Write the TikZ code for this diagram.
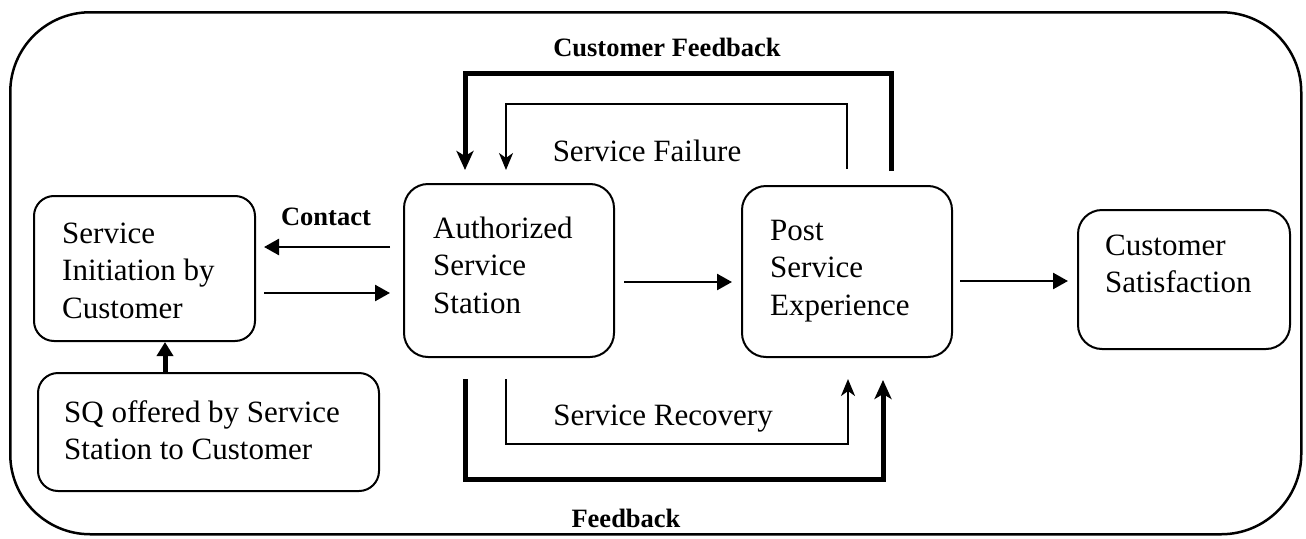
\documentclass[tikz,border=0pt]{standalone}
\usepackage{fontspec}
\setmainfont{Liberation Serif}
\usetikzlibrary{arrows.meta,calc}
\newcommand{\boxlines}[1]{\begin{tabular}[t]{@{}l@{}}#1\end{tabular}}

\begin{document}
\begin{tikzpicture}[x=1pt,y=-1pt,
  frame/.style={draw, line width=2.5pt, rounded corners=80pt, anchor=north west, inner sep=0pt},
  stagebox/.style={draw, line width=2pt, rounded corners=#1, anchor=north west, inner sep=0pt},
  stagebox/.default=24pt,
  txt/.style={anchor=base west, inner sep=0pt, font=\fontsize{31}{37.5}\selectfont},
  lbl/.style={anchor=base, inner sep=0pt, font=\fontsize{31}{37.5}\selectfont},
  boldlbl/.style={anchor=base, inner sep=0pt, font=\bfseries\fontsize{26.5}{30}\selectfont},
  flow/.style={-{Triangle[length=15pt,width=16pt]}, line width=2.5pt},
  upflow/.style={-{Triangle[length=14pt,width=16pt]}, line width=5pt},
  loopthin/.style={-{Stealth[length=17pt,width=14pt,inset=5pt]}, line width=2pt},
  loopthick/.style={-{Stealth[length=19pt,width=17pt,inset=5pt]}, line width=5pt},
]
\useasboundingbox (0,0) rectangle (1306,538);

% outer frame
\node[frame, minimum width=1291pt, minimum height=522pt] (frame) at (9,11) {};

% stages
\node[stagebox=20pt, minimum width=221pt, minimum height=145pt] (init) at (33,195) {};
\node[stagebox=20pt, minimum width=341pt, minimum height=118pt] (sq) at (37,372) {};
\node[stagebox, minimum width=210pt, minimum height=173pt] (auth) at (403,183) {};
\node[stagebox, minimum width=210pt, minimum height=171pt] (post) at (741,185) {};
\node[stagebox, minimum width=212pt, minimum height=139pt] (cs) at (1077,209) {};

% stage texts
\node[txt] (initT) at (62,243) {\boxlines{Service\\Initiation by\\Customer}};
\node[txt] (sqT) at (64,422) {\boxlines{SQ offered by Service\\Station to Customer}};
\node[txt] (authT) at (433,238) {\boxlines{Authorized\\Service\\Station}};
\node[txt] (postT) at (770,240) {\boxlines{Post\\Service\\Experience}};
\node[txt] (csT) at (1105,255) {\boxlines{Customer\\Satisfaction}};

% straight connectors
\draw[flow] ($(auth.north west)+(-13,64)$) -- ($(init.north east)+(8,52)$);
\draw[flow] ($(init.north east)+(8,98)$) -- ($(auth.north west)+(-13,110)$);
\draw[upflow] ($(sq.north west)+(128,0)$) -- ($(init.south west)+(132,0)$);
\draw[flow] ($(auth.north east)+(9,99)$) -- ($(post.north west)+(-9,97)$);
\draw[flow] ($(post.north east)+(7,96)$) -- ($(cs.north west)+(-9,72)$);

% feedback loops
\draw[loopthick] ($(post.north west)+(150,-14)$) -- ++(0,-98) -| ($(auth.north west)+(62,-13)$);
\draw[loopthin] ($(post.north west)+(106,-16)$) -- ++(0,-65) -| ($(auth.north west)+(103,-13)$);
\draw[loopthin] ($(auth.south west)+(103,21)$) -- ++(0,65) -| ($(post.south west)+(107,21)$);
\draw[loopthick] ($(auth.south west)+(62,21)$) -- ++(0,100) -| ($(post.south west)+(142,22)$);

% labels
\node[boldlbl] (contactL) at (326,225) {Contact};
\node[boldlbl] (cfbL) at (667,56) {Customer Feedback};
\node[lbl] (sfL) at (647,161) {Service Failure};
\node[lbl] (srL) at (663,425) {Service Recovery};
\node[boldlbl] (fbL) at (626,527) {Feedback};
\end{tikzpicture}
\end{document}
